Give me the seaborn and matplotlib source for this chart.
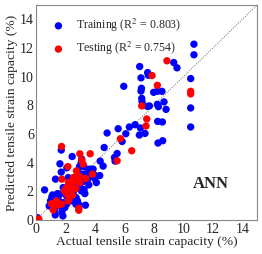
import numpy as np
import pandas as pd
import matplotlib
matplotlib.use("Agg")
import matplotlib.pyplot as plt
import seaborn as sns

sns.set_style("white")
plt.rcParams['font.family'] = ['Liberation Serif', 'DejaVu Serif']
plt.rcParams['mathtext.fontset'] = 'stix'

# training set: actual vs predicted
train_actual = [10.72, 10.72, 9.35, 9.57, 10.5, 10.5, 10.5, 7.04, 7.58, 7.63, 7.13, 7.16, 7.13, 7.18, 7.2,
                5.96, 7.99, 8.24, 8.55, 8.69, 8.83, 8.24, 8.31, 7.56, 7.7, 8.26, 8.58, 8.6, 8.28, 7.4,
                7.02, 7.09, 6.73, 6.34, 6.1, 5.85, 5.58, 4.83, 4.63, 5.51, 5.33, 5.37, 4.36, 4.56, 4.33,
                3.95, 3.99, 3.63, 3.59, 3.54, 3.66, 3.27, 3.11, 3.07, 2.96, 2.82, 2.46, 2.1, 1.72, 1.63,
                1.72, 1.33, 0.59, 1.08, 0.99, 0.9, 1.17, 1.26, 1.31, 0.11, 1.83, 1.76, 1.96, 2.08, 2.53,
                2.82, 2.93, 3.36, 2.73, 3.09, 3.27, 2.91, 3.2, 2.98, 1.63, 1.47, 2.21, 2.42, 2.64, 2.8,
                2.3, 1.85, 1.99, 2.08, 1.51, 2.35, 2.71, 3.43, 3.77, 4.1, 3.88, 3.11, 3.48, 2.19, 2.42,
                1.85, 1.63, 1.35, 1.13, 2.75, 3.32, 2.6]
train_pred = [12.27, 11.53, 10.99, 10.62, 9.87, 7.82, 6.49, 10.71, 10.29, 10.1, 9.92, 9.19, 9.0, 8.49, 8.26,
              9.33, 8.91, 8.98, 8.98, 8.24, 7.72, 8.07, 7.91, 7.93, 7.96, 6.88, 6.84, 5.53, 5.37, 6.04,
              5.93, 6.42, 6.65, 6.49, 6.02, 5.48, 6.37, 6.07, 5.06, 4.64, 4.36, 4.11, 4.11, 3.76, 3.1,
              3.15, 2.89, 3.03, 2.45, 3.38, 3.55, 3.71, 4.25, 3.99, 3.73, 3.38, 4.43, 3.64, 3.34, 3.92,
              4.88, 2.85, 2.1, 1.61, 1.33, 0.98, 0.86, 0.68, 0.35, 0.16, 0.28, 0.56, 0.86, 1.1, 1.91,
              1.33, 1.05, 1.03, 1.56, 2.03, 2.12, 2.61, 2.68, 2.38, 1.8, 1.84, 2.22, 2.43, 2.96, 3.08,
              2.64, 2.26, 2.03, 1.68, 1.45, 1.33, 1.1, 3.2, 3.31, 2.61, 3.55, 3.2, 2.73, 2.96, 1.68,
              1.21, 0.98, 1.17, 1.75, 2.26, 1.84, 1.52]

# testing set
test_actual = [8.89, 7.88, 8.24, 10.5, 10.5, 7.18, 7.52, 7.47, 5.73, 6.5, 5.51, 1.74, 2.98, 3.68, 3.11,
               3.2, 2.17, 1.76, 2.75, 2.8, 2.98, 3.39, 3.84, 2.71, 2.21, 2.08, 1.94, 2.08, 2.3, 2.48,
               2.98, 2.71, 1.74, 1.54, 1.29, 1.17, 1.4, 1.06, 2.19, 2.24, 2.48, 2.91, 2.91, 0.2, 2.37,
               2.53]
test_pred = [11.11, 10.08, 9.4, 8.98, 8.8, 7.96, 7.05, 6.56, 5.67, 4.83, 4.13, 5.13, 4.62, 4.62, 4.18,
             3.9, 3.73, 2.85, 3.43, 3.15, 3.03, 2.89, 3.2, 2.73, 2.61, 2.26, 2.03, 1.84, 1.91, 2.26,
             2.61, 2.19, 1.1, 1.05, 0.98, 0.7, 1.33, 1.14, 1.33, 1.52, 1.73, 0.82, 0.68, 0.07, 2.61,
             2.96]

train = pd.DataFrame({"actual": train_actual, "pred": train_pred})
test = pd.DataFrame({"actual": test_actual, "pred": test_pred})

fig = plt.figure(figsize=(2.62, 2.54), dpi=100)
ax = fig.add_axes([0.137, 0.134, 0.844, 0.846])

ax.plot([0, 15], [0, 15], ls=(0, (1, 1.5)), color="#666666", lw=0.7, zorder=1)
sns.scatterplot(data=train, x="actual", y="pred", ax=ax, color="#0000ff", s=28,
                edgecolor="none", label="Training (R$^2$ = 0.803)", zorder=2)
sns.scatterplot(data=test, x="actual", y="pred", ax=ax, color="#ff0000", s=28,
                edgecolor="none", label="Testing (R$^2$ = 0.754)", zorder=3)

ax.set_xlim(0, 15)
ax.set_ylim(0, 15)
ax.set_xticks(range(0, 15, 2))
ax.set_yticks(range(0, 15, 2))
ax.tick_params(labelsize=10, length=0)
ax.tick_params(axis="x", pad=2)
ax.tick_params(axis="y", pad=1.5)
ax.set_xlabel("Actual tensile strain capacity (%)", fontsize=9.7, labelpad=0)
ax.set_ylabel("Predicted tensile strain capacity (%)", fontsize=9.7, labelpad=1)
for s in ax.spines.values():
    s.set_color("#888888")
    s.set_linewidth(0.8)

ax.text(11.9, 2.5, "ANN", fontsize=12, fontweight="bold", ha="center", va="center")
ax.legend(loc="upper left", frameon=False, fontsize=8.6, handletextpad=0.5,
          borderaxespad=0.3, labelspacing=0.5, bbox_to_anchor=(0.01, 0.985))

fig.savefig("out.png", dpi=100)
